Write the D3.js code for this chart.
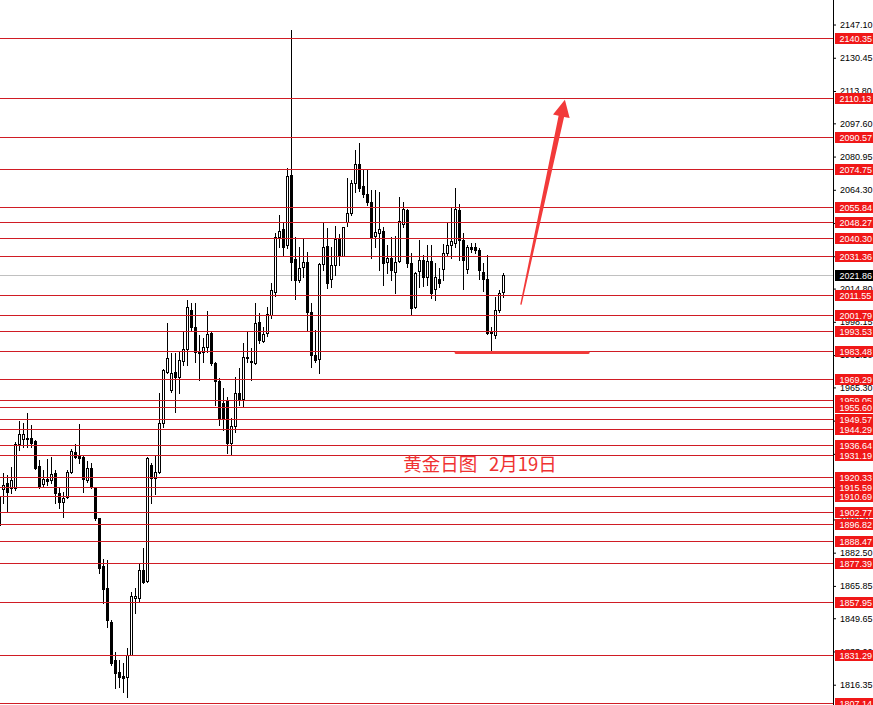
<!DOCTYPE html>
<html><head><meta charset="utf-8">
<script src="https://cdn.jsdelivr.net/npm/d3@7"></script>
<style>html,body{margin:0;padding:0;background:#fff;overflow:hidden}svg{display:block}</style>
</head><body><svg id="c" width="873" height="705"></svg>
<script>
// ---- data (daily gold candles, index of first candle = -1) ----
const firstIndex = -1;
const opens = [1910.4,1914.4,1917.3,1914.8,1914.8,1937.0,1939.5,1939.5,1940.1,1938.5,1925.9,1916.9,1919.4,1918.9,1922.3,1912.3,1908.0,1910.6,1923.1,1933.1,1931.4,1930.6,1918.9,1924.8,1915.3,1899.7,1875.8,1864.7,1847.9,1828.7,1822.9,1820.7,1820.1,1831.2,1859.6,1859.6,1873.8,1868.5,1926.4,1919.8,1923.1,1947.3,1973.2,1964.0,1973.2,1970.7,1978.7,1984.4,2004.1,1995.4,1983.2,1983.2,1985.7,1992.4,1977.4,1968.7,1957.6,1959.0,1937.6,1946.0,1962.4,1959.4,1979.8,1978.6,1977.5,1998.2,1988.7,1992.4,2001.6,2013.3,2040.5,2044.5,2036.7,2071.7,2029.5,2019.1,2025.5,2028.0,2003.2,1981.5,1979.4,2027.0,2036.2,2019.5,2026.6,2040.0,2031.1,2048.0,2052.5,2067.9,2077.2,2066.2,2062.2,2058.4,2041.2,2042.8,2043.8,2028.0,2030.3,2023.3,2028.6,2047.0,2054.2,2027.5,2005.4,2023.8,2029.1,2020.8,2028.8,2014.6,2019.5,2024.5,2032.5,2036.7,2037.8,2054.2,2039.2,2024.5,2035.4,2035.4,2034.2,2023.3,2019.5,1993.2,1991.6,2004.1,2013.3];
const highs = [1913.9,1922.6,1921.4,1925.6,1938.1,1948.5,1947.3,1952.3,1946.5,1939.0,1928.9,1923.9,1929.4,1930.6,1923.9,1914.8,1913.1,1923.9,1934.3,1936.8,1947.0,1931.4,1928.6,1927.3,1915.6,1900.0,1879.2,1878.8,1848.8,1832.9,1828.7,1827.1,1834.6,1863.0,1864.7,1877.2,1884.7,1930.6,1927.3,1931.1,1962.4,1974.4,1997.4,1982.4,1982.7,1983.5,1993.2,2009.1,2007.4,2007.4,1991.6,1989.9,2003.7,1993.2,1978.2,1969.9,1964.9,1960.4,1949.8,1970.4,1974.9,1987.4,1993.2,1984.9,2007.4,2002.4,1995.7,2005.7,2017.5,2042.5,2051.7,2047.5,2075.1,2144.4,2040.8,2035.8,2040.0,2033.3,2007.4,1994.1,2027.5,2047.5,2045.0,2035.8,2046.3,2042.2,2045.8,2070.1,2069.2,2084.2,2087.9,2074.2,2074.6,2064.0,2064.2,2063.4,2045.8,2036.7,2040.8,2041.2,2060.9,2058.4,2054.7,2032.5,2023.3,2039.2,2031.6,2036.7,2036.7,2027.5,2025.0,2037.2,2047.5,2055.0,2065.1,2057.2,2042.5,2036.7,2037.5,2037.8,2035.0,2027.5,2031.6,1995.4,2010.8,2014.1,2022.5];
const lows = [1895.4,1907.2,1903.0,1912.3,1913.9,1933.9,1935.6,1935.4,1935.6,1924.3,1914.8,1915.6,1916.4,1917.3,1907.2,1904.7,1900.5,1909.8,1922.3,1929.8,1927.3,1913.1,1918.1,1914.8,1898.9,1872.2,1857.1,1845.4,1826.2,1814.6,1815.4,1812.9,1810.1,1831.2,1852.4,1857.9,1867.2,1868.0,1907.5,1911.9,1922.6,1945.6,1972.4,1963.2,1953.1,1962.4,1976.5,1976.5,1994.1,1978.2,1969.0,1978.2,1983.2,1976.5,1956.5,1946.5,1944.0,1932.3,1931.4,1943.1,1956.5,1955.6,1978.2,1969.0,1977.0,1987.4,1988.2,1991.1,1999.9,2011.3,2035.8,2031.1,2035.0,2019.1,2009.5,2018.3,2020.8,1994.1,1975.7,1978.2,1972.4,2024.1,2015.0,2015.8,2021.6,2026.6,2031.1,2046.3,2051.7,2063.4,2063.9,2060.9,2056.7,2030.0,2035.8,2024.1,2016.6,2022.5,2019.1,2012.8,2028.3,2045.8,2025.8,2001.6,2004.9,2015.8,2016.1,2016.6,2010.0,2009.1,2015.5,2019.1,2031.6,2030.0,2035.8,2029.1,2014.5,2022.5,2033.3,2032.5,2019.5,2013.8,1992.1,1983.7,1989.9,2003.2,2010.8];
const closes = [1896.4,1916.4,1913.1,1918.9,1937.0,1942.0,1942.0,1939.8,1937.3,1925.1,1915.6,1919.3,1918.6,1921.9,1912.3,1907.7,1909.8,1923.1,1933.6,1930.6,1929.8,1919.3,1924.8,1915.3,1900.0,1874.7,1864.2,1848.8,1827.1,1822.1,1820.4,1819.6,1831.2,1860.8,1860.8,1873.8,1868.0,1929.8,1919.8,1923.1,1947.3,1974.0,1979.9,1972.4,1970.4,1979.0,1984.4,2005.7,1995.4,1983.2,1982.4,1985.4,1992.1,1977.4,1968.7,1949.5,1949.3,1937.3,1946.0,1962.7,1959.4,1980.7,1980.3,1977.8,1997.7,1989.1,1992.1,2002.1,2014.1,2040.5,2043.7,2035.8,2071.2,2028.3,2019.1,2025.3,2028.0,2003.2,1981.5,1979.0,2027.0,2035.8,2017.8,2026.6,2039.5,2031.1,2045.5,2052.5,2067.6,2077.2,2065.1,2062.2,2058.4,2040.8,2043.0,2044.7,2027.5,2030.3,2024.1,2028.0,2048.7,2054.7,2027.8,2005.2,2022.8,2029.1,2020.8,2028.8,2012.8,2020.5,2017.8,2032.5,2036.7,2038.7,2054.7,2039.2,2029.1,2035.5,2034.6,2034.2,2024.1,2019.5,1992.7,1992.4,2004.1,2012.8,2021.86];

const levels = [2140.35,2110.13,2090.57,2074.75,2055.84,2048.27,2040.30,2031.36,2011.55,2001.79,1993.53,1983.48,1969.29,1959.05,1955.60,1949.57,1944.29,1936.64,1931.19,1920.33,1915.59,1910.69,1902.77,1896.82,1888.47,1877.39,1857.95,1831.29,1807.14];
const tickValues = [2147.10,2130.45,2113.80,2097.60,2080.95,2064.30,2047.65,2031.00,2014.80,1998.15,1981.50,1965.30,1948.65,1932.00,1915.35,1899.15,1882.50,1865.85,1849.65,1833.00,1816.35];
const currentPrice = 2021.86;
const supportLevel = 1983.48;
const targetLevel = 2110.13;
const noteTitle = "黄金日图";
const noteDate = "2月19日";

// ---- layout ----
const W = 873, H = 705, axisX = 833;
const FONT = 'Liberation Sans, Arial, sans-serif';
const svg = d3.select('#c');
const y = d3.scaleLinear().domain([1807.14, 2140.35]).range([703.1, 38]);
const x = d3.scaleLinear().domain([0, 125]).range([3.3, 503.3]);
const data = opens.map((o, k) => ({i: k + firstIndex, o, h: highs[k], l: lows[k], c: closes[k]}));
const ry = v => Math.round(y(v));

// current price gray line
svg.append('line').attr('x1', 0).attr('x2', axisX).attr('y1', ry(currentPrice) + 0.5).attr('y2', ry(currentPrice) + 0.5)
  .attr('stroke', '#c0c0c0').attr('stroke-width', 1);

// candles
const cg = svg.append('g').attr('shape-rendering', 'crispEdges');
data.forEach(d => {
  const cx = Math.round(x(d.i));
  const top = ry(Math.max(d.o, d.c)), bot = ry(Math.min(d.o, d.c));
  cg.append('rect').attr('x', cx).attr('y', ry(d.h)).attr('width', 1).attr('height', Math.max(1, ry(d.l) - ry(d.h) + 1)).attr('fill', '#000');
  cg.append('rect').attr('x', cx - 1).attr('y', top).attr('width', 3).attr('height', Math.max(1, bot - top + 1)).attr('fill', '#000');
  if (d.c > d.o && bot - top - 1 > 0) {
    cg.append('rect').attr('x', cx).attr('y', top + 1).attr('width', 1).attr('height', bot - top - 1).attr('fill', '#fff');
  }
});

// level lines
svg.append('g').selectAll('line').data(levels).join('line')
  .attr('x1', 0).attr('x2', axisX).attr('y1', d => ry(d) + 0.5).attr('y2', d => ry(d) + 0.5)
  .attr('stroke', '#d01c24').attr('stroke-width', 1);

// right axis
svg.append('line').attr('x1', axisX + 0.5).attr('x2', axisX + 0.5).attr('y1', 0).attr('y2', H).attr('stroke', '#000');
const ax = svg.append('g').attr('transform', `translate(${axisX},0)`)
  .call(d3.axisRight(y).tickValues(tickValues).tickSize(3).tickPadding(4).tickFormat(d => d.toFixed(2)));
ax.select('.domain').remove();
ax.selectAll('line').attr('stroke', '#000');
ax.selectAll('text').attr('font-family', FONT).attr('font-size', 9).attr('fill', '#000');

// level labels
const lg = svg.append('g');
function priceTag(v, bg) {
  const yy = ry(v);
  lg.append('rect').attr('x', 835).attr('y', yy - 5).attr('width', 38).attr('height', 11).attr('fill', bg);
  lg.append('text').attr('x', 839.5).attr('y', yy + 3.5).text(v.toFixed(2))
    .attr('font-family', FONT).attr('font-size', 9).attr('fill', '#fff');
}
levels.forEach(v => priceTag(v, '#f01818'));
priceTag(currentPrice, '#000');

// support thick line
svg.append('line').attr('x1', x(113.2)).attr('x2', x(146.2))
  .attr('y1', y(supportLevel) + 1.5).attr('y2', y(supportLevel) + 1.5)
  .attr('stroke', '#f03a3a').attr('stroke-width', 3).attr('stroke-linecap', 'round');

// arrow
{
  const x0 = x(129.4), y0 = y(2006.8), x1 = x(140.4), y1 = y(targetLevel - 0.7);
  const dx = x1 - x0, dy = y1 - y0, len = Math.hypot(dx, dy);
  const ux = dx / len, uy = dy / len, nx = -uy, ny = ux;
  const hl = 17, hw = 8.5, w0 = 0.7, w1 = 2.8;
  const bx = x1 - hl * ux, by = y1 - hl * uy;
  const pts = [
    [x0 + nx * w0, y0 + ny * w0], [bx + nx * w1, by + ny * w1], [bx + nx * hw, by + ny * hw], [x1, y1],
    [bx - nx * hw, by - ny * hw], [bx - nx * w1, by - ny * w1], [x0 - nx * w0, y0 - ny * w0]
  ];
  svg.append('polygon').attr('points', pts.map(p => p.join(',')).join(' ')).attr('fill', '#f23a3a');
}

// note text
const note = svg.append('text').attr('y', y(1923.4))
  .attr('font-family', 'Noto Sans CJK SC, sans-serif').attr('font-size', 18.5).attr('fill', '#f03232');
note.append('tspan').attr('x', x(100)).text(noteTitle);
note.append('tspan').attr('x', x(121.4)).text(noteDate);
</script>
</body></html>
